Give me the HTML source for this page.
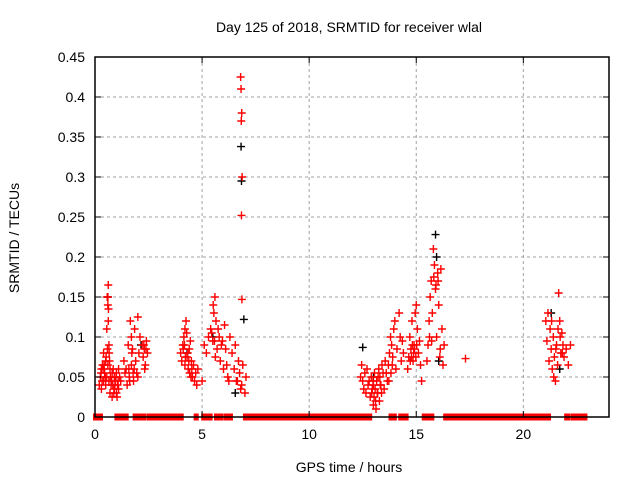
<!DOCTYPE html>
<html><head><meta charset="utf-8"><style>
body{margin:0;background:#fff}
svg{display:block;font-family:"Liberation Sans",sans-serif}
</style></head><body>
<svg id="chart" width="640" height="480" viewBox="0 0 640 480" xmlns="http://www.w3.org/2000/svg">
<rect width="640" height="480" fill="#fff"/>
<text x="349" y="32" font-size="14" text-anchor="middle">Day 125 of 2018, SRMTID for receiver wlal</text>
<text x="349" y="472" font-size="14" text-anchor="middle">GPS time / hours</text>
<text transform="translate(19,238) rotate(-90)" font-size="14" text-anchor="middle">SRMTID / TECUs</text>
<g id="grid"></g><g id="marks"></g><g id="axes"></g>
</svg>
<script>
const xTicks=[0,5,10,15,20];
const yTicks=[0,0.05,0.1,0.15,0.2,0.25,0.3,0.35,0.4,0.45];
const yTickLabels=["0","0.05","0.1","0.15","0.2","0.25","0.3","0.35","0.4","0.45"];
const zeroStarts=[0,1.0,1.85,2.05,2.5,4.7,5.05,5.65,6.1,7.0,12.6,13.8,14.25,15.35,16.35,22.0,22.3];
const zeroEnds=[0.28,1.48,2.0,2.3,4.05,4.75,5.4,5.9,6.35,12.45,12.85,14.0,14.55,15.75,21.2,22.1,22.9];
const redX=[0.2,0.25,0.3,0.3,0.35,0.4,0.4,0.45,0.5,0.5,0.55,0.55,0.6,0.6,0.6,0.62,0.62,0.65,0.65,0.7,0.7,0.75,0.8,0.8,0.85,0.9,0.9,0.95,1.0,1.0,1.05,1.1,1.1,1.15,1.2,
0.28,0.33,0.38,0.43,0.48,0.52,0.58,0.68,0.72,0.78,0.83,0.88,0.93,0.98,1.03,1.08,0.57,0.63,0.66,
1.35,1.4,1.45,1.5,1.55,1.6,1.65,1.7,1.7,1.75,1.8,1.85,1.9,1.95,2.0,2.0,2.05,2.1,2.2,2.25,2.3,2.35,2.4,2.45,
1.58,1.62,1.72,1.78,1.83,2.28,2.32,2.38,
4.0,4.05,4.1,4.15,4.2,4.2,4.25,4.3,4.35,4.4,4.45,4.5,4.55,4.6,4.65,4.7,4.75,4.8,
4.12,4.18,4.22,4.28,4.33,4.38,4.42,4.48,4.52,
5.0,5.1,5.2,5.3,5.4,5.5,5.55,5.6,5.65,5.7,5.8,5.85,5.9,6.0,6.05,6.1,6.2,6.3,6.4,6.5,6.6,6.7,6.75,6.8,6.85,6.9,7.0,7.05,
5.45,5.52,5.58,5.62,5.75,5.95,6.15,6.25,6.55,6.65,
6.8,6.82,6.85,6.83,6.87,6.84,6.86,
12.4,12.45,12.5,12.55,12.6,12.65,12.7,12.75,12.8,12.85,12.9,12.95,13.0,13.0,13.05,13.1,13.15,13.2,13.25,13.3,13.35,13.4,13.5,13.55,13.6,13.65,
12.92,12.98,13.03,13.08,13.12,13.18,13.22,13.28,13.32,13.38,13.45,
13.7,13.75,13.8,13.85,13.9,13.95,14.0,14.05,14.1,14.2,14.3,14.35,14.4,
13.72,13.82,13.88,14.25,
14.6,14.65,14.7,14.75,14.8,14.85,14.9,14.95,15.0,15.05,15.1,15.15,15.2,15.25,
14.72,14.78,14.82,14.88,14.92,14.98,15.02,
15.5,15.55,15.6,15.65,15.7,15.75,15.8,15.85,15.9,15.95,16.0,16.05,16.1,16.15,16.2,16.25,16.3,
15.62,15.72,15.82,15.92,16.02,16.12,
17.3,
21.05,21.1,21.15,21.2,21.25,21.3,21.35,21.4,21.45,21.5,21.55,21.6,21.65,21.7,21.75,21.8,21.85,21.9,22.0,22.1,22.2,
21.32,21.42,21.52,21.62,21.72,21.82];
const redY=[0.04,0.05,0.06,0.035,0.065,0.045,0.08,0.055,0.07,0.04,0.05,0.11,0.065,0.15,0.14,0.165,0.12,0.09,0.045,0.06,0.03,0.04,0.055,0.025,0.06,0.035,0.05,0.045,0.03,0.055,0.04,0.06,0.035,0.05,0.045,
0.055,0.045,0.06,0.065,0.05,0.075,0.085,0.07,0.05,0.045,0.04,0.03,0.04,0.05,0.025,0.045,0.15,0.135,0.08,
0.07,0.055,0.06,0.04,0.09,0.05,0.12,0.065,0.1,0.085,0.045,0.11,0.07,0.055,0.125,0.05,0.08,0.1,0.09,0.075,0.085,0.065,0.095,0.08,
0.06,0.045,0.08,0.055,0.06,0.09,0.06,0.085,
0.08,0.07,0.09,0.1,0.065,0.11,0.12,0.075,0.06,0.085,0.095,0.07,0.05,0.065,0.045,0.055,0.04,0.06,
0.085,0.09,0.075,0.105,0.08,0.07,0.055,0.05,0.06,
0.045,0.09,0.08,0.1,0.11,0.095,0.13,0.15,0.12,0.085,0.1,0.07,0.09,0.06,0.115,0.085,0.05,0.1,0.08,0.06,0.045,0.07,0.055,0.035,0.04,0.065,0.03,0.05,
0.105,0.14,0.095,0.075,0.11,0.095,0.065,0.045,0.09,0.045,
0.425,0.41,0.38,0.37,0.30,0.252,0.147,
0.05,0.065,0.045,0.035,0.055,0.03,0.06,0.04,0.045,0.025,0.05,0.035,0.015,0.04,0.055,0.02,0.045,0.03,0.06,0.05,0.04,0.065,0.035,0.07,0.055,0.045,
0.03,0.045,0.025,0.035,0.01,0.03,0.05,0.02,0.04,0.03,0.055,
0.065,0.08,0.1,0.09,0.075,0.11,0.12,0.06,0.085,0.13,0.07,0.095,0.08,
0.045,0.055,0.065,0.1,
0.06,0.075,0.1,0.085,0.12,0.07,0.09,0.13,0.14,0.11,0.08,0.095,0.065,0.045,
0.07,0.075,0.09,0.08,0.085,0.075,0.09,
0.07,0.09,0.12,0.15,0.17,0.13,0.21,0.19,0.16,0.1,0.18,0.14,0.075,0.185,0.11,0.065,0.09,
0.1,0.095,0.175,0.165,0.17,0.085,
0.073,
0.12,0.095,0.13,0.07,0.11,0.085,0.06,0.1,0.075,0.045,0.09,0.065,0.155,0.12,0.08,0.105,0.09,0.075,0.085,0.065,0.09,
0.12,0.05,0.085,0.11,0.1,0.08];
const blackX=[0.6,2.15,4.3,5.5,6.55,6.82,6.84,6.95,12.5,13.0,15.9,15.95,16.05,21.3,21.7];
const blackY=[0.15,0.09,0.08,0.1,0.03,0.338,0.295,0.122,0.087,0.05,0.228,0.2,0.07,0.13,0.06];

const L=95,R=609,T=57,B=417;
const xS=h=>L+h*(R-L)/24;
const yS=v=>B-v*(B-T)/0.45;
const NS="http://www.w3.org/2000/svg";
function mk(tag,attrs,parent){const e=document.createElementNS(NS,tag);for(const k in attrs)e.setAttribute(k,attrs[k]);parent.appendChild(e);return e;}
const grid=document.getElementById('grid'),marks=document.getElementById('marks'),axes=document.getElementById('axes');
xTicks.forEach((t,i)=>{
  const x=xS(t);
  if(t>0){const g=mk('line',{x1:x,y1:T,x2:x,y2:B,stroke:'#a0a0a0','stroke-dasharray':'3,3'},grid);
  
  }
  mk('line',{x1:x,y1:B,x2:x,y2:B-6,stroke:'#000'},axes);
  mk('line',{x1:x,y1:T,x2:x,y2:T+6,stroke:'#000'},axes);
  const tx=mk('text',{x:x,y:B+22,'font-size':14,'text-anchor':'middle'},axes);tx.textContent=String(t);
  
  
});
yTicks.forEach((t,i)=>{
  const y=yS(t);
  if(t>0&&t<0.45){const g=mk('line',{x1:L,y1:y,x2:R,y2:y,stroke:'#a0a0a0','stroke-dasharray':'3,3'},grid);
  
  }
  mk('line',{x1:L,y1:y,x2:L+6,y2:y,stroke:'#000'},axes);
  mk('line',{x1:R,y1:y,x2:R-6,y2:y,stroke:'#000'},axes);
  const tx=mk('text',{x:L-10,y:y+5,'font-size':14,'text-anchor':'end'},axes);tx.textContent=yTickLabels[i];
  
  
});
const frame=mk('rect',{x:L,y:T,width:R-L,height:B-T,fill:'none',stroke:'#000','stroke-width':1.5},axes);


zeroStarts.forEach((s,i)=>{
  const r=mk('rect',{x:xS(s)-2,y:B-3.5,width:xS(zeroEnds[i])-xS(s)+4,height:7,fill:'#f00'},marks);
  
  
});
function cross(x,y,c,name){
  const p=mk('path',{d:`M${x-4},${y}H${x+4}M${x},${y-4}V${y+4}`,stroke:c,'stroke-width':1.4,fill:'none'},marks);
  
  
}
blackX.forEach((h,i)=>cross(xS(h),yS(blackY[i]),'#000','black-point'));
redX.forEach((h,i)=>cross(xS(h),yS(redY[i]),'#f00','red-point'));
</script>
</body></html>
